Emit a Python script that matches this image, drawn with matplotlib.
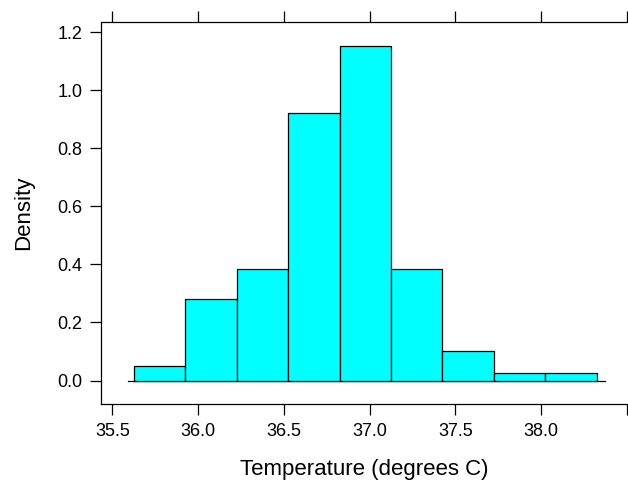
import matplotlib
matplotlib.use("Agg")
import matplotlib.pyplot as plt
import numpy as np

plt.rcParams['font.family'] = ['Liberation Sans', 'DejaVu Sans']

# ---- data ----
bin_start = 35.624
bin_width = 0.3
density = [0.051, 0.282, 0.385, 0.923, 1.154, 0.385, 0.103, 0.026, 0.026]
x_ticks = [35.5, 36.0, 36.5, 37.0, 37.5, 38.0, 38.5]
x_tick_labels = ["35.5", "36.0", "36.5", "37.0", "37.5", "38.0", ""]
y_ticks = [0.0, 0.2, 0.4, 0.6, 0.8, 1.0, 1.2]
y_tick_labels = ["0.0", "0.2", "0.4", "0.6", "0.8", "1.0", "1.2"]
xlabel = "Temperature (degrees C)"
ylabel = "Density"

W, H = 628, 483
fig = plt.figure(figsize=(W / 100, H / 100), dpi=100)
L, R, T, B = 101, 630, 22.3, 404
ax = fig.add_axes([L / W, 1 - B / H, (R - L) / W, (B - T) / H])

edges = bin_start + bin_width * np.arange(len(density) + 1)
ax.bar(edges[:-1], density, width=bin_width, align='edge',
       color='#00FFFF', edgecolor='black', linewidth=0.9, zorder=2)
ax.plot([edges[0] - 0.03, edges[-1] + 0.045], [0, 0], color='black', lw=0.9, zorder=1)

ax.set_xlim(35.434, 38.517)
ax.set_ylim(-0.081, 1.235)

ax.set_xticks(x_ticks)
ax.set_xticklabels(x_tick_labels)
ax.set_yticks(y_ticks)
ax.set_yticklabels(y_tick_labels)

for s in ax.spines.values():
    s.set_linewidth(0.9)
    s.set_color('black')
ax.spines['right'].set_visible(False)

ax.tick_params(axis='x', which='both', direction='out', length=8, width=0.9,
               top=True, bottom=True, labeltop=False, labelsize=13, pad=6)
ax.tick_params(axis='y', which='both', direction='out', length=8, width=0.9,
               left=True, right=False, labelsize=13, pad=5.5)

fig.text(364.7 / W, 1 - 470 / H, xlabel, ha='center', va='center', fontsize=16)
fig.text(24 / W, 1 - 212.5 / H, ylabel, ha='center', va='center', rotation=90, fontsize=16)

fig.savefig("out.png", dpi=100)
